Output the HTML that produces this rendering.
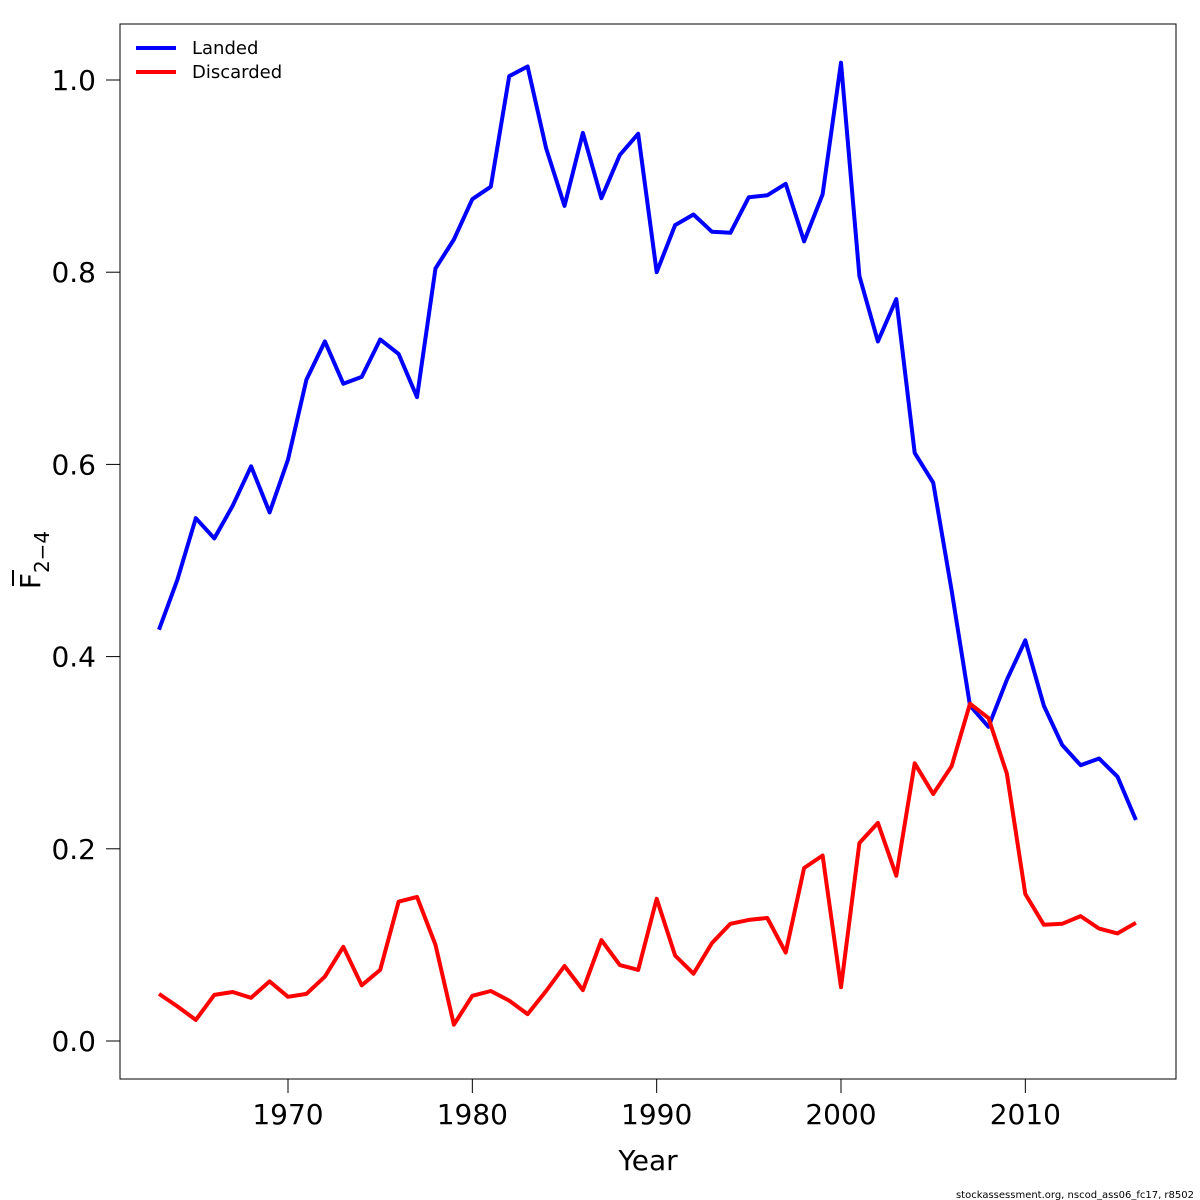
<!DOCTYPE html>
<html><head><meta charset="utf-8">
<style>
html,body{margin:0;padding:0;background:#fff;}
svg{display:block;font-family:"DejaVu Sans","Liberation Sans",sans-serif;}
</style></head>
<body>
<svg id="chart" width="1200" height="1200" viewBox="0 0 1200 1200"></svg>
<script>
const years = [];
for (let y = 1963; y <= 2016; y++) years.push(y);
const landed = [0.428,0.480,0.544,0.523,0.557,0.598,0.550,0.605,0.688,0.728,0.684,0.691,0.730,0.715,0.670,0.804,0.834,0.876,0.889,1.004,1.014,0.929,0.869,0.945,0.877,0.922,0.944,0.800,0.849,0.860,0.842,0.841,0.878,0.880,0.892,0.832,0.881,1.018,0.796,0.728,0.772,0.612,0.581,0.469,0.349,0.327,0.376,0.417,0.349,0.308,0.287,0.294,0.275,0.230];
const discarded = [0.049,0.036,0.022,0.048,0.051,0.045,0.062,0.046,0.049,0.067,0.098,0.058,0.074,0.145,0.150,0.100,0.017,0.047,0.052,0.042,0.028,0.052,0.078,0.053,0.105,0.079,0.074,0.148,0.089,0.070,0.102,0.122,0.126,0.128,0.092,0.180,0.193,0.056,0.206,0.227,0.172,0.289,0.257,0.286,0.351,0.336,0.278,0.153,0.121,0.122,0.130,0.117,0.112,0.123];
const xTicks = [1970,1980,1990,2000,2010];
const yTicks = [0.0,0.2,0.4,0.6,0.8,1.0];

const NS = "http://www.w3.org/2000/svg";
const svg = document.getElementById("chart");
function sx(yr){ return 288 + (yr - 1970) * (841 - 288) / 30; }
function sy(v){ return 1041 - v * 961; }
function mk(tag, attrs, parent){
  const e = document.createElementNS(NS, tag);
  for (const k in attrs) e.setAttribute(k, attrs[k]);
  (parent || svg).appendChild(e);
  return e;
}

const box = mk("rect", {x:120, y:24, width:1056, height:1055, fill:"none", stroke:"#000", "stroke-width":1});



const xAxis = mk("g", {});


mk("line", {x1:sx(1970), x2:sx(2010), y1:1079, y2:1079, stroke:"#000"}, xAxis);
xTicks.forEach(t => {
  mk("line", {x1:sx(t), x2:sx(t), y1:1079, y2:1093, stroke:"#000"}, xAxis);
  const tx = mk("text", {x:sx(t), y:1124, "font-size":28, "text-anchor":"middle"}, xAxis);
  tx.textContent = t;
  
  
});
const xt = mk("text", {x:648, y:1170, "font-size":28, "text-anchor":"middle"});
xt.textContent = "Year";



const yAxis = mk("g", {});


mk("line", {x1:120, x2:120, y1:sy(0), y2:sy(1), stroke:"#000"}, yAxis);
yTicks.forEach(t => {
  mk("line", {x1:106, x2:120, y1:sy(t), y2:sy(t), stroke:"#000"}, yAxis);
  const tx = mk("text", {x:96, y:sy(t)+10, "font-size":28, "text-anchor":"end"}, yAxis);
  tx.textContent = t.toFixed(1);
  
  
});
const yt = mk("g", {transform:"translate(40,560) rotate(-90)"});


const yT = mk("text", {x:0, y:0, "font-size":28, "text-anchor":"middle"}, yt);
yT.innerHTML = 'F<tspan font-size="20" dy="9">2−4</tspan>';
mk("line", {x1:-26, x2:-10, y1:-27, y2:-27, stroke:"#000", "stroke-width":2}, yt);

function series(vals, color, name){
  const d = vals.map((v,i) => (i ? "L" : "M") + sx(years[i]).toFixed(1) + "," + sy(v).toFixed(1)).join(" ");
  const p = mk("path", {d, fill:"none", stroke:color, "stroke-width":4, "stroke-linejoin":"round"});
  
  
}
series(landed, "#0000ff", "landed-line");
series(discarded, "#ff0000", "discarded-line");

const lg = mk("g", {});


[["Landed","#0000ff",48],["Discarded","#ff0000",72]].forEach(([n,c,y]) => {
  const e = mk("g", {}, lg);
  
  
  mk("line", {x1:136, x2:176, y1:y, y2:y, stroke:c, "stroke-width":4}, e);
  const t = mk("text", {x:192, y:y+6, "font-size":18}, e);
  t.textContent = n;
});

const cap = mk("text", {x:1194, y:1198, "font-size":10, "text-anchor":"end"});
cap.textContent = "stockassessment.org, nscod_ass06_fc17, r8502";


</script>
</body></html>
